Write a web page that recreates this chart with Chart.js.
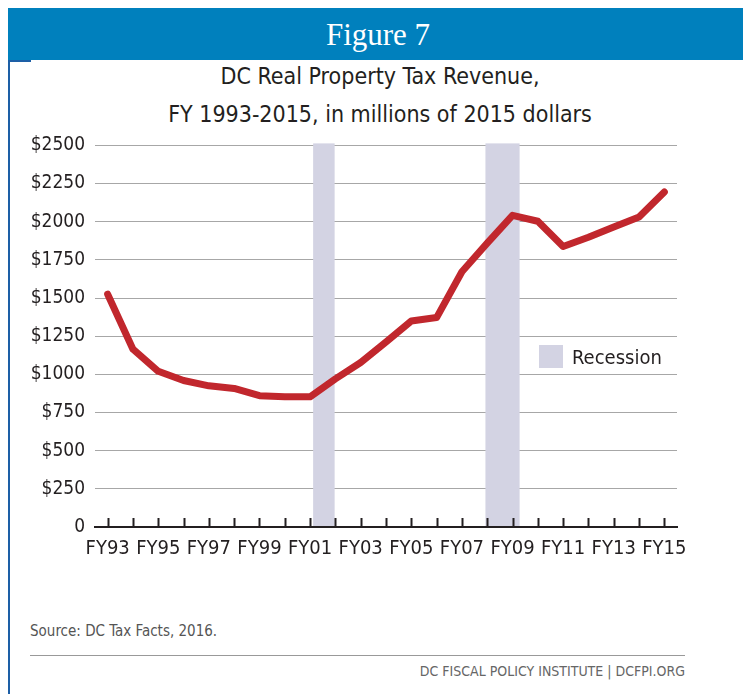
<!DOCTYPE html>
<html>
<head>
<meta charset="utf-8">
<script src="https://cdn.jsdelivr.net/npm/chart.js@4/dist/chart.umd.min.js"></script>
<style>
  html, body { margin: 0; padding: 0; background: #fff; }
  body { width: 743px; height: 694px; position: relative; overflow: hidden;
         font-family: 'Liberation Sans Narrow', 'DejaVu Sans Condensed', sans-serif; }
  .header { position: absolute; left: 8px; top: 8px; width: 735px; height: 52px; background: #0080bd; }
  .header span { position: absolute; left: 0; width: 740px; text-align: center; top: 9px;
                 color: #fff; font: 31px 'Liberation Serif', 'Times New Roman', serif; }
  .header-tab { position: absolute; left: 8px; top: 60px; width: 23px; height: 2px; background: #1d5fa6; }
  .side { position: absolute; left: 8px; top: 60px; width: 2px; height: 634px; background: #1d5fa6; }
  .title { position: absolute; left: 0; width: 760px; text-align: center; color: #231f20;
           font-size: 23px; line-height: 38px; top: 57px; }
  #chart { position: absolute; left: 0; top: 124px; }
  .legend { position: absolute; left: 539px; top: 343px; color: #231f20; font-size: 20px; }
  .legend i { display: inline-block; width: 24px; height: 23px; background: #d3d3e3; vertical-align: middle; }
  .legend span { vertical-align: middle; margin-left: 9px; }
  .source { position: absolute; left: 30px; top: 622px; color: #555; font-size: 15px; }
  .rule { position: absolute; left: 30px; top: 655px; width: 655px; height: 1px; background: #999; }
  .credit { position: absolute; right: 58px; top: 663px; color: #666; font-size: 14px; }
</style>
</head>
<body>
<div class="header"><span>Figure 7</span></div>
<div class="header-tab"></div>
<div class="side"></div>
<div class="title">DC Real Property Tax Revenue,<br>FY 1993-2015, in millions of 2015 dollars</div>
<canvas id="chart" width="743" height="456"></canvas>
<div class="legend"><i></i><span>Recession</span></div>
<div class="source">Source: DC Tax Facts, 2016.</div>
<div class="rule"></div>
<div class="credit">DC FISCAL POLICY INSTITUTE | DCFPI.ORG</div>

<script>
// Fiscal years 1993-2015
const years = ['FY93', 'FY94', 'FY95', 'FY96', 'FY97', 'FY98', 'FY99', 'FY00', 'FY01', 'FY02', 'FY03', 'FY04',
  'FY05', 'FY06', 'FY07', 'FY08', 'FY09', 'FY10', 'FY11', 'FY12', 'FY13', 'FY14', 'FY15'];

// Real property tax revenue, millions of 2015 dollars
const revenue = [1525, 1165, 1020, 960, 925, 908, 860, 853, 853, 970, 1078, 1212, 1350, 1372, 1672, 1860,
  2042, 2003, 1838, 1898, 1966, 2031, 2195];

// Recession periods (fiscal year, fractional)
const recessionStart = [2001.12, 2007.93];
const recessionEnd = [2001.97, 2009.28];

const yTicks = [0, 250, 500, 750, 1000, 1250, 1500, 1750, 2000, 2250, 2500];

const FONT = "'Liberation Sans Narrow', 'DejaVu Sans Condensed', sans-serif";

// shaded recession bands + upward tick marks on the x axis
const recessionBands = {
  id: 'recessionBands',
  beforeDatasetsDraw(chart) {
    const { ctx, chartArea, scales: { x } } = chart;
    ctx.save();
    ctx.fillStyle = '#d3d3e3';
    recessionStart.forEach((s, i) => {
      const x0 = x.getPixelForValue(s - 1993);
      const x1 = x.getPixelForValue(recessionEnd[i] - 1993);
      ctx.fillRect(x0, chartArea.top - 2, x1 - x0, chartArea.bottom - chartArea.top + 1);
    });
    // tick marks
    ctx.strokeStyle = '#231f20';
    ctx.lineWidth = 2;
    ctx.beginPath();
    years.forEach((y, i) => {
      const px = Math.round(x.getPixelForValue(i)) + 0.5;
      ctx.moveTo(px, chartArea.bottom);
      ctx.lineTo(px, chartArea.bottom - 9);
    });
    ctx.stroke();
    ctx.restore();
  }
};

new Chart(document.getElementById('chart'), {
  type: 'line',
  data: {
    labels: years,
    datasets: [{
      data: revenue,
      borderColor: '#c1272d',
      borderWidth: 7,
      borderJoinStyle: 'round',
      borderCapStyle: 'round',
      pointRadius: 0,
      tension: 0
    }]
  },
  options: {
    responsive: false,
    animation: false,
    layout: { padding: { top: 15, right: 66, bottom: 3, left: 0 } },
    plugins: { legend: { display: false }, tooltip: { enabled: false } },
    scales: {
      x: {
        offset: true,
        grid: { display: false, drawTicks: false },
        border: { display: true, color: '#231f20', width: 2 },
        ticks: {
          autoSkip: false,
          maxRotation: 0,
          padding: 10,
          color: '#231f20',
          font: { family: FONT, size: 20 },
          callback: (v, i) => (i % 2 === 0 ? years[i] : '')
        },
        afterFit: (s) => { s.height = 50; }
      },
      y: {
        min: 0,
        max: 2500,
        afterBuildTicks: (s) => { s.ticks = yTicks.map(v => ({ value: v })); },
        grid: {
          drawTicks: false,
          color: (c) => (c.tick && c.tick.value === 0 ? 'rgba(0,0,0,0)' : '#a7a7a7'),
          lineWidth: 1
        },
        border: { display: false },
        ticks: {
          padding: 10,
          color: '#231f20',
          font: { family: FONT, size: 19 },
          callback: (v) => (v === 0 ? '0' : '$' + v)
        },
        afterFit: (s) => { s.width = 95; }
      }
    }
  },
  plugins: [recessionBands]
});
</script>
</body>
</html>
